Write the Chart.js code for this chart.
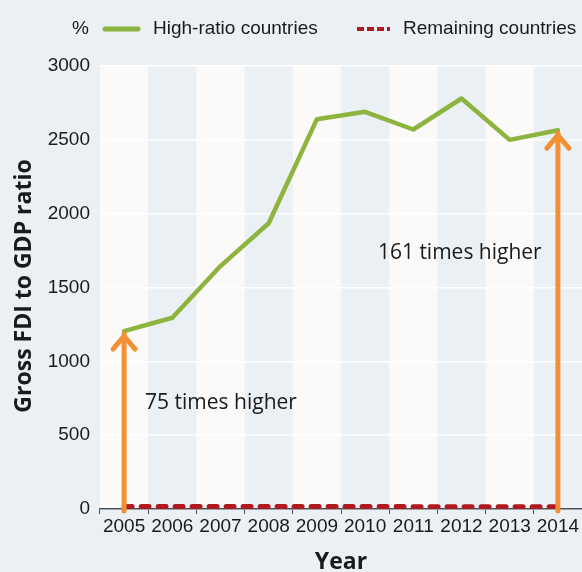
<!DOCTYPE html>
<html>
<head>
<meta charset="utf-8">
<script src="https://cdn.jsdelivr.net/npm/chart.js@4/dist/chart.umd.min.js"></script>
<style>
  html, body { margin: 0; padding: 0; background: #ebf0f5; }
  #wrap { width: 582px; height: 572px; }
</style>
</head>
<body>
<div id="wrap"><canvas id="myChart" width="582" height="572"></canvas></div>
<script>
const years = ['2005', '2006', '2007', '2008', '2009', '2010', '2011', '2012', '2013', '2014'];
const highRatio = [1205, 1295, 1645, 1935, 2640, 2690, 2570, 2780, 2500, 2565];
const remaining = [16, 17, 17, 17, 17, 17, 16, 16, 16, 16];
const yTicks = [0, 500, 1000, 1500, 2000, 2500, 3000];
const notes = [
    { year: '2005', text: '75 times higher', dx: 21, value: 720 },
    { year: '2014', text: '161 times higher', dx: -180, value: 1735 }
];

const arial = "'Liberation Sans', Arial, sans-serif";
const humanist = "'Open Sans', 'Noto Sans', sans-serif";

const GREEN = '#8cb43f';
const RED = '#b0191e';
const ORANGE = '#f39033';
const BG = '#ebf0f5';
const BAND = '#fbfaf8';
const INK = '#1a1a1a';

// background, alternating year bands
const bands = {
    id: 'bands',
    beforeDraw(chart) {
        const { ctx, chartArea, scales } = chart;
        ctx.save();
        ctx.fillStyle = BG;
        ctx.fillRect(0, 0, chart.width, chart.height);
        const step = scales.x.getPixelForValue(1) - scales.x.getPixelForValue(0);
        years.forEach((y, i) => {
            if (i % 2 === 1) return;
            const cx = scales.x.getPixelForValue(i);
            ctx.fillStyle = BAND;
            ctx.fillRect(cx - step / 2, chartArea.top, step, chartArea.bottom - chartArea.top);
        });
        ctx.restore();
    }
};

// arrows, notes, axis titles and legend
const overlay = {
    id: 'overlay',
    afterDraw(chart) {
        const { ctx, scales, chartArea } = chart;
        const x = scales.x, y = scales.y;
        ctx.save();

        notes.forEach(n => {
            const i = years.indexOf(n.year);
            const px = x.getPixelForValue(i);
            const top = y.getPixelForValue(highRatio[i]) + 3;
            const bottom = y.getPixelForValue(0) + 2;
            ctx.strokeStyle = ORANGE;
            ctx.lineWidth = 5;
            ctx.lineCap = 'round';
            ctx.lineJoin = 'round';
            ctx.beginPath();
            ctx.moveTo(px, bottom);
            ctx.lineTo(px, top);
            ctx.stroke();
            ctx.beginPath();
            ctx.moveTo(px - 11, top + 15);
            ctx.lineTo(px, top + 2);
            ctx.lineTo(px + 11, top + 15);
            ctx.stroke();

            ctx.fillStyle = INK;
            ctx.font = '21px ' + humanist;
            ctx.textAlign = 'left';
            ctx.textBaseline = 'middle';
            ctx.fillText(n.text, px + n.dx, y.getPixelForValue(n.value));
        });

        // axis titles
        ctx.fillStyle = INK;
        ctx.font = 'bold 23px ' + humanist;
        ctx.textAlign = 'center';
        ctx.textBaseline = 'middle';
        ctx.fillText('Year', (chartArea.left + chartArea.right) / 2, 562);
        ctx.save();
        ctx.translate(24, 286);
        ctx.rotate(-Math.PI / 2);
        ctx.fillText('Gross FDI to GDP ratio', 0, 0);
        ctx.restore();

        // legend
        ctx.font = '19px ' + arial;
        ctx.textBaseline = 'middle';
        ctx.fillStyle = INK;
        ctx.textAlign = 'right';
        ctx.fillText('%', 89, 29);
        ctx.textAlign = 'left';

        ctx.strokeStyle = GREEN;
        ctx.lineWidth = 5;
        ctx.lineCap = 'round';
        ctx.beginPath();
        ctx.moveTo(105, 29);
        ctx.lineTo(138, 29);
        ctx.stroke();
        ctx.fillText('High-ratio countries', 153, 29);

        ctx.strokeStyle = RED;
        ctx.lineWidth = 4;
        ctx.lineCap = 'butt';
        ctx.setLineDash([7, 3]);
        ctx.beginPath();
        ctx.moveTo(357, 29);
        ctx.lineTo(390, 29);
        ctx.stroke();
        ctx.setLineDash([]);
        ctx.fillText('Remaining countries', 403, 29);

        ctx.restore();
    }
};

const ctx = document.getElementById('myChart').getContext('2d');
const chart = new Chart(ctx, {
    type: 'line',
    data: {
        labels: years,
        datasets: [
            {
                label: 'High-ratio countries',
                data: highRatio,
                borderColor: GREEN,
                borderWidth: 4.5,
                pointRadius: 0,
                tension: 0,
                borderJoinStyle: 'round',
                borderCapStyle: 'round'
            },
            {
                label: 'Remaining countries',
                data: remaining,
                borderColor: RED,
                borderWidth: 5,
                borderDash: [8, 9],
                borderCapStyle: 'round',
                pointRadius: 0,
                tension: 0
            }
        ]
    },
    options: {
        responsive: false,
        animation: false,
        layout: { padding: { top: 66, right: 0, left: 0, bottom: 0 } },
        plugins: {
            legend: { display: false },
            tooltip: { enabled: false }
        },
        scales: {
            x: {
                offset: true,
                grid: {
                    display: true,
                    offset: true,
                    drawOnChartArea: false,
                    drawTicks: true,
                    tickLength: 5,
                    color: '#4a4f5a'
                },
                border: { display: true, color: '#4a4f5a', width: 1.5 },
                ticks: {
                    color: INK,
                    font: { family: arial, size: 19 },
                    padding: 1,
                    maxRotation: 0,
                    autoSkip: false
                },
                afterFit(scale) { scale.height = 63; }
            },
            y: {
                min: 0,
                max: 3000,
                afterBuildTicks(scale) { scale.ticks = yTicks.map(v => ({ value: v })); },
                grid: {
                    color: '#ffffff',
                    lineWidth: 1.5,
                    drawTicks: false
                },
                border: { display: false },
                ticks: {
                    color: INK,
                    font: { family: arial, size: 19 },
                    padding: 10,
                    callback: v => String(v)
                },
                afterFit(scale) { scale.width = 100; }
            }
        }
    },
    plugins: [bands, overlay]
});
</script>
</body>
</html>
